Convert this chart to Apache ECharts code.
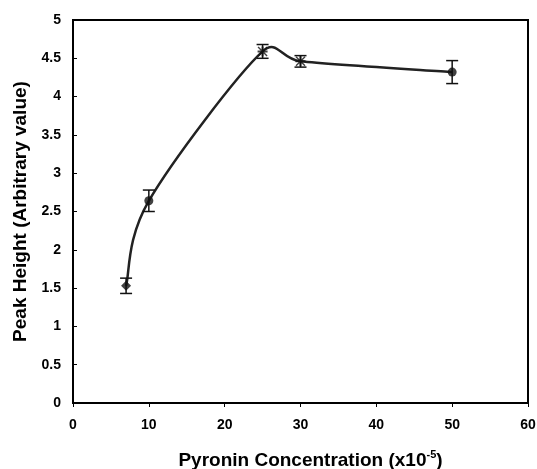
<!DOCTYPE html>
<html><head><meta charset="utf-8">
<script src="https://cdn.jsdelivr.net/npm/echarts@6/dist/echarts.min.js"></script>
<style>html,body{margin:0;padding:0;background:#fff}#c{width:537px;height:469px}</style>
</head><body><div id="c"></div>
<script>
const xValues = [7, 10, 25, 30, 50];
const yValues = [1.53, 2.64, 4.59, 4.46, 4.32];
const errValues = [0.1, 0.14, 0.09, 0.075, 0.15];
const xTicks = [0, 10, 20, 30, 40, 50, 60];
const yTicks = [0, 0.5, 1, 1.5, 2, 2.5, 3, 3.5, 4, 4.5, 5];

const asterisk = 'path://M4,0 L6,0 L6,10 L4,10 Z M0,4 L10,4 L10,6 L0,6 Z M0,1 L1,0 L10,9 L9,10 Z M9,0 L10,1 L1,10 L0,9 Z';
const shapes = ['diamond', 'circle', asterisk, asterisk, 'circle'];
const sizes = [10, 9, 10, 10, 9];

const font = 'Liberation Sans, Arial, sans-serif';
const chart = echarts.init(document.getElementById('c'));
const pointData = xValues.map((x, i) => ({
  value: [x, yValues[i]],
  symbol: shapes[i],
  symbolSize: sizes[i]
}));
const errData = xValues.map((x, i) => [x, yValues[i] - errValues[i], yValues[i] + errValues[i]]);
const segData = xValues.slice(0, -1).map((x, i) => [x, yValues[i]]);

function tangent(a, b, segLen) {
  let tx = (b[0] - a[0]) / 6, ty = (b[1] - a[1]) / 6;
  const l = Math.hypot(tx, ty);
  const cap = segLen / 2;
  if (l > cap && l > 0) { tx *= cap / l; ty *= cap / l; }
  return [tx, ty];
}

chart.setOption({
  animation: false,
  grid: { left: 73, right: 9, top: 20, bottom: 66, containLabel: false, outerBoundsMode: 'none',
    show: true, borderColor: '#000', borderWidth: 2, backgroundColor: 'transparent' },
  xAxis: {
    type: 'value', min: 0, max: 60, interval: 10,
    axisLine: { show: true, lineStyle: { color: '#000', width: 2 } },
    axisTick: { show: true, inside: false, length: 4, lineStyle: { color: '#000', width: 1 } },
    splitLine: { show: false },
    axisLabel: { color: '#000', fontFamily: font, fontWeight: 'bold', fontSize: 14, margin: 15,
      formatter: v => xTicks.includes(v) ? String(v) : '' },
    name: '{a|Pyronin Concentration (x10}{s|-5}{a|)}',
    nameLocation: 'middle', nameGap: 46,
    nameTextStyle: { padding: [0, 0, 0, 20], rich: {
      a: { color: '#000', fontFamily: font, fontWeight: 'bold', fontSize: 19 },
      s: { color: '#000', fontFamily: font, fontWeight: 'bold', fontSize: 11, verticalAlign: 'top', padding: [0, 0, 12, 0] }
    } }
  },
  yAxis: {
    type: 'value', min: 0, max: 5, interval: 0.5,
    axisLine: { show: true, lineStyle: { color: '#000', width: 2 } },
    axisTick: { show: true, inside: true, length: 4, lineStyle: { color: '#000', width: 1 } },
    splitLine: { show: false },
    axisLabel: { color: '#000', fontFamily: font, fontWeight: 'bold', fontSize: 14, margin: 12,
      formatter: v => yTicks.includes(v) ? String(v) : '' },
    name: 'Peak Height (Arbitrary value)',
    nameLocation: 'middle', nameGap: 43, nameRotate: 90,
    nameTextStyle: { color: '#000', fontFamily: font, fontWeight: 'bold', fontSize: 19 }
  },
  series: [
    {
      type: 'custom', data: segData, z: 2,
      renderItem: function (params, api) {
        const n = xValues.length;
        const P = xValues.map((x, k) => api.coord([x, yValues[k]]));
        const i = params.dataIndex;
        const p0 = P[Math.max(i - 1, 0)], p1 = P[i], p2 = P[i + 1], p3 = P[Math.min(i + 2, n - 1)];
        const segLen = Math.hypot(p2[0] - p1[0], p2[1] - p1[1]);
        const t1 = tangent(p0, p2, segLen);
        const t2 = tangent(p1, p3, segLen);
        return {
          type: 'bezierCurve',
          shape: {
            x1: p1[0], y1: p1[1], x2: p2[0], y2: p2[1],
            cpx1: p1[0] + t1[0], cpy1: p1[1] + t1[1],
            cpx2: p2[0] - t2[0], cpy2: p2[1] - t2[1]
          },
          style: { stroke: '#222', lineWidth: 2.5, fill: null }
        };
      }
    },
    {
      type: 'scatter', data: pointData, z: 3,
      itemStyle: { color: '#111' }
    },
    {
      type: 'custom', data: errData, z: 4,
      renderItem: function (params, api) {
        const x = api.value(0);
        const lo = api.coord([x, api.value(1)]);
        const hi = api.coord([x, api.value(2)]);
        const hw = 6;
        const st = { stroke: '#111', lineWidth: 1.5 };
        return { type: 'group', children: [
          { type: 'line', shape: { x1: lo[0], y1: lo[1], x2: hi[0], y2: hi[1] }, style: st },
          { type: 'line', shape: { x1: lo[0] - hw, y1: lo[1], x2: lo[0] + hw, y2: lo[1] }, style: st },
          { type: 'line', shape: { x1: hi[0] - hw, y1: hi[1], x2: hi[0] + hw, y2: hi[1] }, style: st }
        ] };
      }
    }
  ]
});
</script></body></html>
